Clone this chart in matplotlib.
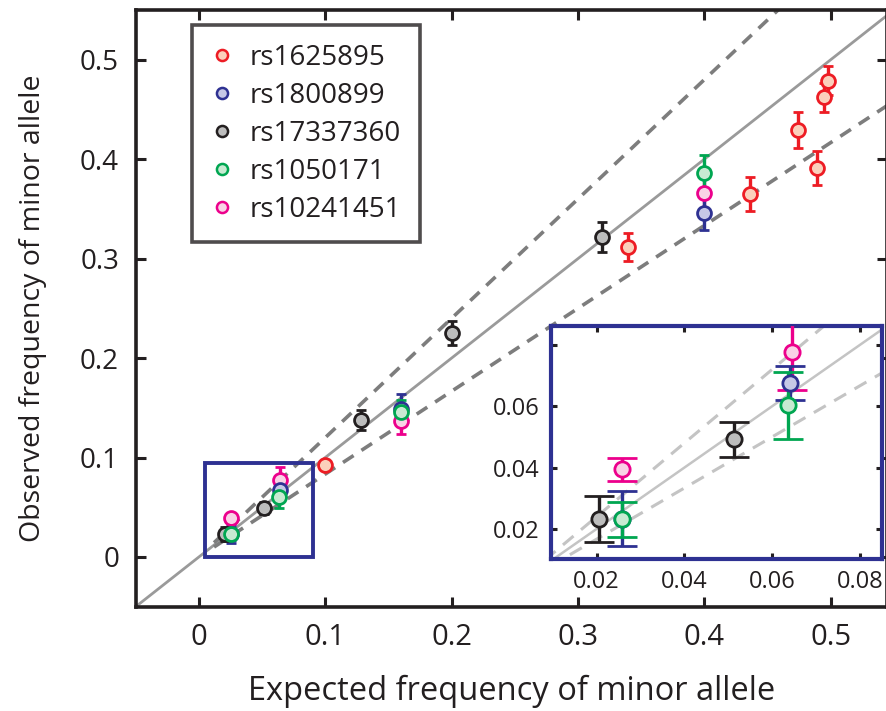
import matplotlib
matplotlib.use("Agg")
import matplotlib.pyplot as plt
from matplotlib.patches import Rectangle
import numpy as np

plt.rcParams['font.family'] = ['Open Sans', 'DejaVu Sans']

# ---- data ----
series_names = ["rs1625895", "rs1800899", "rs17337360", "rs1050171", "rs10241451"]

red_x = [0.0997, 0.3397, 0.4357, 0.474, 0.489, 0.495, 0.4977]
red_y = [0.092, 0.312, 0.365, 0.429, 0.391, 0.462, 0.479]
red_err = [0.004, 0.014, 0.017, 0.018, 0.017, 0.015, 0.015]

blue_x = [0.0257, 0.064, 0.16, 0.3996]
blue_y = [0.0233, 0.0676, 0.149, 0.3455]
blue_err = [0.009, 0.0054, 0.015, 0.017]

black_x = [0.0205, 0.0513, 0.128, 0.2, 0.3186]
black_y = [0.0231, 0.0492, 0.138, 0.2248, 0.322]
black_err = [0.0075, 0.0058, 0.010, 0.012, 0.015]

green_x = [0.0257, 0.0637, 0.16, 0.3996]
green_y = [0.0232, 0.0603, 0.146, 0.386]
green_err = [0.0057, 0.0108, 0.012, 0.018]

pink_x = [0.0257, 0.0645, 0.16, 0.3996]
pink_y = [0.0394, 0.0778, 0.137, 0.366]
pink_err = [0.0039, 0.0124, 0.013, 0.016]

ratio = 1.2  # dashed bounds y = 1.2x and y = x/1.2

edge_cols = ["#ed1c24", "#2e3192", "#231f20", "#00a651", "#ec008c"]
face_cols = ["#fbd0bc", "#c6c8e6", "#bdbdbd", "#c8ead2", "#f9d2e6"]

all_series = [
    (red_x, red_y, red_err),
    (blue_x, blue_y, blue_err),
    (black_x, black_y, black_err),
    (green_x, green_y, green_err),
    (pink_x, pink_y, pink_err),
]
draw_order = [4, 0, 1, 2, 3]

fig = plt.figure(figsize=(8.87, 7.11), dpi=100)
ax = fig.add_axes([0.153, 0.1467, 0.847, 0.8393])

xs = np.array([-0.05, 0.6])
ax.plot(xs, xs, color="#9a9a9a", lw=2.0, zorder=1, solid_capstyle='butt')
xd = np.array([0.012, 0.6])
ax.plot(xd, xd * ratio, color="#7d7d7d", lw=2.6, ls=(0, (3.5, 2.6)), zorder=1)
ax.plot(xd, xd / ratio, color="#7d7d7d", lw=2.6, ls=(0, (3.5, 2.6)), zorder=1)

for i in draw_order:
    x, y, e = all_series[i]
    ax.errorbar(x, y, yerr=e, fmt='o', ms=10, mew=2.0, mec=edge_cols[i],
                mfc=face_cols[i], ecolor=edge_cols[i], elinewidth=2.4,
                capsize=3.8, capthick=2.4, zorder=3)

ax.add_patch(Rectangle((0.005, 0.0), 0.085, 0.094, fill=False,
                       edgecolor="#2e3192", lw=2.8, zorder=4))

ax.set_xlim(-0.05, 0.5445)
ax.set_ylim(-0.05, 0.55)
ax.set_xticks([0, 0.1, 0.2, 0.3, 0.4, 0.5])
ax.set_xticklabels(["0", "0.1", "0.2", "0.3", "0.4", "0.5"])
ax.set_yticks([0, 0.1, 0.2, 0.3, 0.4, 0.5])
ax.set_yticklabels(["0", "0.1", "0.2", "0.3", "0.4", "0.5"])
ax.tick_params(direction='in', length=7, width=2.2, top=True, right=True,
               labelsize=20, pad=12, colors="#231f20")
ax.tick_params(axis='x', labelsize=21)
for s in ax.spines.values():
    s.set_linewidth(2.6)
    s.set_color("#231f20")
ax.set_xlabel("Expected frequency of minor allele", fontsize=23.5, labelpad=16,
              color="#231f20")
ax.set_ylabel("Observed frequency of minor allele", fontsize=20.5, labelpad=24,
              color="#231f20")

# legend
handles = []
for i in range(5):
    h, = ax.plot([], [], 'o', ms=8, mew=1.8, mec=edge_cols[i], mfc=face_cols[i])
    handles.append(h)
leg = ax.legend(handles, series_names, loc='upper left',
                bbox_to_anchor=(0.0745, 0.974), fontsize=20, frameon=True,
                fancybox=False, edgecolor="#231f20", handlelength=0.9,
                handletextpad=0.55, labelspacing=0.36, borderpad=0.65,
                borderaxespad=0.0)
leg.get_frame().set_linewidth(2.6)
for t in leg.get_texts():
    t.set_color("#231f20")

# inset
ins = fig.add_axes([0.6212, 0.2134, 0.3728, 0.3285])
xi = np.array([0.0, 0.1])
ins.plot(xi, xi, color="#c4c4c4", lw=1.8, zorder=1)
ins.plot(xi, xi * ratio, color="#c4c4c4", lw=2.2, ls=(0, (4.5, 3.2)), zorder=1)
ins.plot(xi, xi / ratio, color="#c4c4c4", lw=2.2, ls=(0, (4.5, 3.2)), zorder=1)
for i in draw_order:
    x, y, e = all_series[i]
    ins.errorbar(x, y, yerr=e, fmt='o', ms=11, mew=2.0, mec=edge_cols[i],
                 mfc=face_cols[i], ecolor=edge_cols[i], elinewidth=2.4,
                 capsize=10.5, capthick=2.4, zorder=3)
ins.set_xlim(0.0096, 0.085)
ins.set_ylim(0.0101, 0.0863)
ins.set_xticks([0.02, 0.04, 0.06, 0.08])
ins.set_xticklabels(["0.02", "0.04", "0.06", "0.08"])
ins.set_yticks([0.02, 0.04, 0.06, 0.08])
ins.set_yticklabels(["0.02", "0.04", "0.06", ""])
ins.tick_params(direction='in', length=4, width=2.2, top=True, right=True,
                labelsize=17, pad=8, colors="#231f20")
for s in ins.spines.values():
    s.set_linewidth(3.0)
    s.set_color("#2e3192")

fig.savefig("out.png", dpi=100)
